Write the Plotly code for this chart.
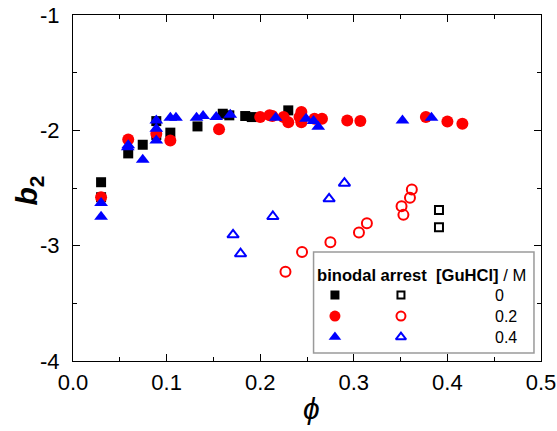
import plotly.graph_objects as go

# binodal points (filled) and arrest points (open), per [GuHCl]
phi_bin_0 = [0.030, 0.030, 0.059, 0.0745, 0.089, 0.089, 0.104, 0.133, 0.160, 0.167, 0.184, 0.191, 0.230]
b2_bin_0 = [-2.45, -2.58, -2.20, -2.125, -1.92, -2.04, -2.02, -1.966, -1.856, -1.87, -1.876, -1.885, -1.827]

phi_bin_02 = [0.030, 0.059, 0.089, 0.104, 0.156, 0.200, 0.210, 0.213, 0.225, 0.230, 0.244, 0.242,
              0.244, 0.258, 0.266, 0.293, 0.307, 0.377, 0.400, 0.416]
b2_bin_02 = [-2.58, -2.08, -2.03, -2.088, -1.99, -1.885, -1.87, -1.876, -1.885, -1.93, -1.84, -1.885,
             -1.93, -1.90, -1.90, -1.914, -1.92, -1.885, -1.923, -1.943]

phi_bin_04 = [0.030, 0.030, 0.0585, 0.059, 0.0745, 0.089, 0.089, 0.089, 0.104, 0.110, 0.132, 0.139,
              0.153, 0.168, 0.2166, 0.249, 0.257, 0.262, 0.352, 0.383]
b2_bin_04 = [-2.63, -2.75, -2.146, -2.13, -2.255, -1.914, -1.986, -2.088, -1.89, -1.89, -1.89, -1.876,
             -1.885, -1.865, -1.89, -1.90, -1.92, -1.97, -1.914, -1.89]

phi_arr_0 = [0.391, 0.391]
b2_arr_0 = [-2.69, -2.84]

phi_arr_02 = [0.227, 0.2447, 0.275, 0.3055, 0.314, 0.351, 0.353, 0.360, 0.362]
b2_arr_02 = [-3.227, -3.054, -2.97, -2.886, -2.805, -2.658, -2.733, -2.585, -2.513]

phi_arr_04 = [0.171, 0.179, 0.2135, 0.2736, 0.290]
b2_arr_04 = [-2.906, -3.07, -2.747, -2.594, -2.458]

x_ticks = [0.0, 0.1, 0.2, 0.3, 0.4, 0.5]
x_ticklabels = ["0.0", "0.1", "0.2", "0.3", "0.4", "0.5"]
y_ticks = [-4, -3, -2, -1]
y_ticklabels = ["-4", "-3", "-2", "-1"]

conc_labels = ["0", "0.2", "0.4"]
colors = ["#000000", "#ff0000", "#0000ff"]
symbols = ["square", "circle", "triangle-up"]
sizes = [10, 12, 12]

FONT = "Liberation Sans, Arial, sans-serif"

fig = go.Figure()

binodal = [(phi_bin_0, b2_bin_0), (phi_bin_02, b2_bin_02), (phi_bin_04, b2_bin_04)]
arrest = [(phi_arr_0, b2_arr_0), (phi_arr_02, b2_arr_02), (phi_arr_04, b2_arr_04)]

for (px, py), c, s, sz in zip(binodal, colors, symbols, sizes):
    fig.add_trace(go.Scatter(x=px, y=py, mode="markers", showlegend=False,
                             marker=dict(symbol=s, color=c, size=sz, line=dict(width=0))))
for (px, py), c, s, sz in zip(arrest, colors, symbols, sizes):
    fig.add_trace(go.Scatter(x=px, y=py, mode="markers", showlegend=False,
                             marker=dict(symbol=s + "-open", color=c, size=sz - 2,
                                         line=dict(width=2, color=c))))

# hand-built legend: its own small axes laid over the lower right of the plot,
# with coordinates in screen pixels (y downward)
row_y = [295, 316, 337]
for i, (c, s, sz) in enumerate(zip(colors, symbols, sizes)):
    fig.add_trace(go.Scatter(x=[335], y=[row_y[i]], mode="markers", xaxis="x2", yaxis="y2",
                             showlegend=False,
                             marker=dict(symbol=s, color=c, size=sz - 1, line=dict(width=0))))
    fig.add_trace(go.Scatter(x=[401], y=[row_y[i]], mode="markers", xaxis="x2", yaxis="y2",
                             showlegend=False,
                             marker=dict(symbol=s + "-open", color=c, size=sz - 3,
                                         line=dict(width=2, color=c))))
    fig.add_annotation(x=493, y=row_y[i], xref="x2", yref="y2", text=conc_labels[i],
                       showarrow=False, xanchor="left", font=dict(size=16, family=FONT, color="#000"))

fig.add_annotation(x=315, y=275, xref="x2", yref="y2",
                   text="<b>binodal arrest  [GuHCl]</b> / M", showarrow=False, xanchor="left",
                   font=dict(size=16.6, family=FONT, color="#000"))

fig.add_shape(type="rect", xref="paper", yref="paper",
              x0=0.514, x1=0.985, y0=0.023, y1=0.315,
              line=dict(color="#9a9a9a", width=1.5), fillcolor="rgba(0,0,0,0)")

# axis titles
fig.add_annotation(x=-0.139, y=0.494, xref="paper", yref="paper",
                   text="<b><i>b</i><sub>2</sub></b>", showarrow=False, textangle=-90,
                   font=dict(size=30, family=FONT, color="#000"))
fig.add_annotation(x=0.509, y=-0.19, xref="paper", yref="paper",
                   text="<i>ϕ</i>", showarrow=False,
                   font=dict(size=30, family=FONT, color="#000"))

axis_common = dict(showline=True, linecolor="#000", linewidth=1.3, mirror="ticks",
                   ticks="inside", ticklen=7, tickwidth=1.2, tickcolor="#000",
                   showgrid=False, zeroline=False, automargin=False,
                   tickfont=dict(size=22, family=FONT, color="#000"))

fig.update_layout(
    width=557, height=431,
    margin=dict(l=73, r=16, t=15, b=70),
    plot_bgcolor="white", paper_bgcolor="white",
    xaxis=dict(range=[0, 0.5], tickvals=x_ticks, ticktext=x_ticklabels, ticklabelstandoff=1,
               minor=dict(dtick=0.05, ticks="inside", ticklen=4, tickcolor="#000"),
               **axis_common),
    yaxis=dict(range=[-4, -1], tickvals=y_ticks, ticktext=y_ticklabels, ticklabelstandoff=8,
               minor=dict(dtick=0.5, ticks="inside", ticklen=4, tickcolor="#000"),
               **axis_common),
    xaxis2=dict(domain=[0.514, 0.985], range=[313.6, 534], visible=False, fixedrange=True,
                anchor="y2"),
    yaxis2=dict(domain=[0.023, 0.315], range=[353, 252], visible=False, fixedrange=True,
                anchor="x2"),
)

fig.write_html("out.html")
